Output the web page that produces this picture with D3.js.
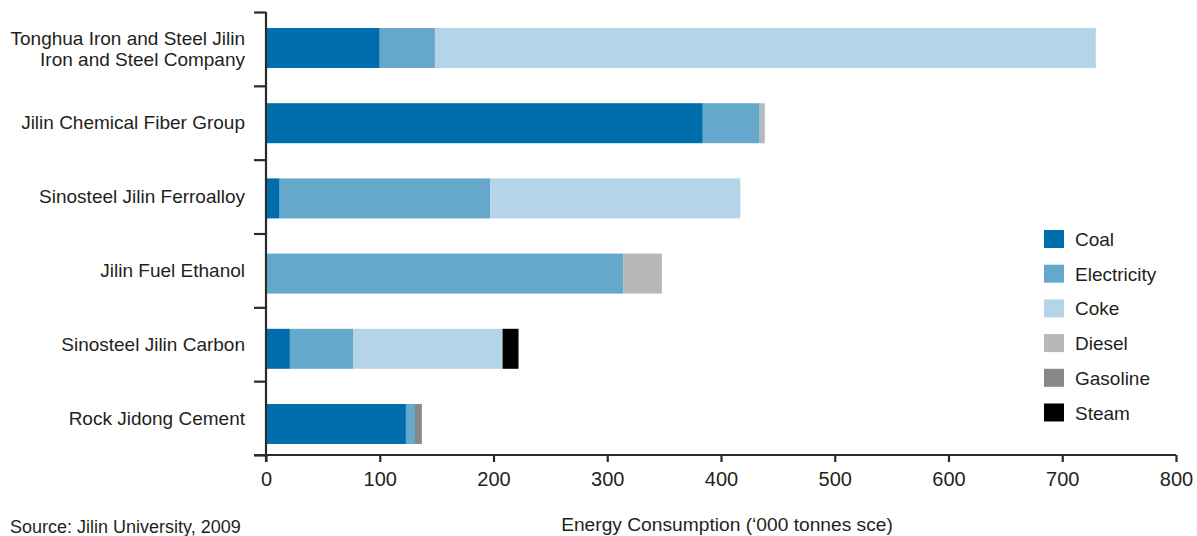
<!DOCTYPE html>
<html>
<head>
<meta charset="utf-8">
<script src="https://cdn.jsdelivr.net/npm/d3@7"></script>
<style>
  html, body { margin: 0; padding: 0; background: #fff; }
  svg { display: block; }
  text { font-family: "Liberation Sans", Arial, sans-serif; fill: #231f20; }
</style>
</head>
<body>
<svg id="chart" width="1197" height="536"></svg>
<script>
// ---- Data ----
const categories = [
  ["Tonghua Iron and Steel Jilin", "Iron and Steel Company"],
  ["Jilin Chemical Fiber Group"],
  ["Sinosteel Jilin Ferroalloy"],
  ["Jilin Fuel Ethanol"],
  ["Sinosteel Jilin Carbon"],
  ["Rock Jidong Cement"]
];
const seriesNames = ["Coal", "Electricity", "Coke", "Diesel", "Gasoline", "Steam"];
const coal        = [100, 384, 12,   0,  21, 123];
const electricity = [48.5, 50, 185, 314, 55.5,  8];
const coke        = [581,   0, 220,   0, 131.5, 0];
const diesel      = [0,   4.5,   0,  34,   0,   0];
const gasoline    = [0,     0,   0,   0,   0,   6];
const steam       = [0,     0,   0,   0,  14,   0];
const xTicks = [0, 100, 200, 300, 400, 500, 600, 700, 800];
const xTitle = "Energy Consumption (\u2018000 tonnes sce)";
const sourceText = "Source: Jilin University, 2009";

const colors = ["#006eac", "#66a8cc", "#b3d5e7", "#b7b8ba", "#87888a", "#000000"];

// ---- Build table ----
const seriesValues = [coal, electricity, coke, diesel, gasoline, steam];
const rows = categories.map((c, i) => {
  const r = { key: i };
  seriesNames.forEach((s, j) => r[s] = seriesValues[j][i]);
  return r;
});
const stacked = d3.stack().keys(seriesNames)(rows);

const svg = d3.select("#chart");
const x = d3.scaleLinear().domain([0, 800]).range([266, 1176]);
const y = d3.scaleBand().domain(d3.range(categories.length)).range([28, 444]).paddingInner(0.468).paddingOuter(0);
const yBound = d3.scaleLinear().domain([0, categories.length]).range([12, 455]);
const color = d3.scaleOrdinal().domain(seriesNames).range(colors);

// Bars
svg.append("g").selectAll("g").data(stacked).join("g")
  .attr("fill", d => color(d.key))
  .selectAll("rect").data(d => d).join("rect")
  .attr("x", d => x(d[0]))
  .attr("y", (d, i) => y(i))
  .attr("width", d => Math.max(0, x(d[1]) - x(d[0])))
  .attr("height", y.bandwidth());

// Y axis with boundary ticks
const yAxis = svg.append("g").attr("transform", "translate(266,0)")
  .call(d3.axisLeft(yBound).tickValues(d3.range(categories.length + 1)).tickSize(12).tickFormat(""));
yAxis.select(".domain").attr("stroke", "#2b2b2b").attr("stroke-width", 2.2).attr("d", "M0,12V462");
yAxis.selectAll(".tick line").attr("stroke", "#2b2b2b").attr("stroke-width", 2.2);

// X axis
const xAxis = svg.append("g").attr("transform", "translate(0,455)")
  .call(d3.axisBottom(x).tickValues(xTicks).tickSize(7).tickPadding(10).tickFormat(d3.format("d")));
xAxis.select(".domain").attr("stroke", "#2b2b2b").attr("stroke-width", 2.2).attr("d", "M254,0H1176");
xAxis.selectAll(".tick line").attr("stroke", "#2b2b2b").attr("stroke-width", 2.2);
xAxis.selectAll(".tick text").attr("font-size", 20).attr("font-family", "Liberation Sans, Arial, sans-serif").attr("fill", "#231f20");

// Category labels (centred in the tick bands)
const labels = svg.append("g");
categories.forEach((lines, i) => {
  const cy = (yBound(i) + yBound(i + 1)) / 2;
  const lh = 21.5;
  const t = labels.append("text").attr("text-anchor", "end").attr("font-size", 19);
  lines.forEach((ln, k) => {
    t.append("tspan").attr("x", 245)
      .attr("y", cy + 6.5 + (k - (lines.length - 1) / 2) * lh)
      .text(ln);
  });
});

// Legend
const leg = svg.append("g");
seriesNames.forEach((s, i) => {
  const ly = 230 + i * 34.7;
  leg.append("rect").attr("x", 1044).attr("y", ly).attr("width", 20).attr("height", 18).attr("fill", color(s));
  leg.append("text").attr("x", 1075).attr("y", ly + 16).attr("font-size", 19).text(s);
});

// Axis title and source
svg.append("text").attr("x", 727).attr("y", 531).attr("text-anchor", "middle").attr("font-size", 19.2).text(xTitle);
svg.append("text").attr("x", 10).attr("y", 533).attr("font-size", 18).text(sourceText);
</script>
</body>
</html>
